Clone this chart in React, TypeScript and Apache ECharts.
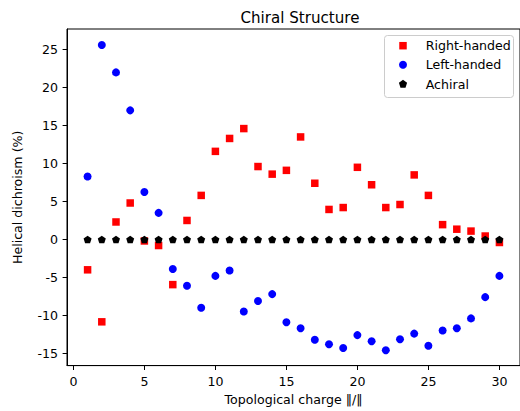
import React, { useEffect, useRef } from "react";
import * as echarts from "echarts";

const charges = [1, 2, 3, 4, 5, 6, 7, 8, 9, 10, 11, 12, 13, 14, 15, 16, 17, 18, 19, 20, 21, 22, 23, 24, 25, 26, 27, 28, 29, 30];
const rightHanded = [-4.0, -10.85, 2.3, 4.8, -0.2, -0.8, -5.95, 2.5, 5.8, 11.6, 13.3, 14.6, 9.6, 8.6, 9.1, 13.5, 7.4, 3.95, 4.2, 9.5, 7.2, 4.2, 4.6, 8.5, 5.8, 1.95, 1.35, 1.1, 0.45, -0.4];
const leftHanded = [8.3, 25.6, 22.0, 17.0, 6.25, 3.5, -3.9, -6.1, -9.0, -4.8, -4.1, -9.5, -8.1, -7.2, -10.9, -11.7, -13.2, -13.8, -14.3, -12.6, -13.4, -14.6, -13.15, -12.4, -14.0, -12.0, -11.7, -10.4, -7.6, -4.8];
const achiral = [0, 0, 0, 0, 0, 0, 0, 0, 0, 0, 0, 0, 0, 0, 0, 0, 0, 0, 0, 0, 0, 0, 0, 0, 0, 0, 0, 0, 0, 0];
const xTicks = [0, 5, 10, 15, 20, 25, 30];
const yTicks = [-15, -10, -5, 0, 5, 10, 15, 20, 25];
const seriesNames = ["Right-handed", "Left-handed", "Achiral"];

const FONT = "DejaVu Sans";
const PENTAGON = "path://M0,-1 L0.951,-0.309 L0.588,0.809 L-0.588,0.809 L-0.951,-0.309 Z";
const SQUARE = "path://M0,0 L1,0 L1,1 L0,1 Z";

function pentagonPoints(cx: number, cy: number, r: number): number[][] {
  const pts: number[][] = [];
  for (let k = 0; k < 5; k++) {
    const a = -Math.PI / 2 + (k * 2 * Math.PI) / 5;
    pts.push([cx + r * Math.cos(a), cy + 0.15 + r * Math.sin(a)]);
  }
  return pts;
}

export default function App() {
  const ref = useRef<HTMLDivElement>(null);
  useEffect(() => {
    if (!ref.current) return;
    const chart = echarts.init(ref.current, null, { renderer: "svg" });
    const pair = (ys: number[]) => charges.map((c, i) => [c, ys[i]]);
    const axisCommon = {
      type: "value" as const,
      splitLine: { show: false },
      axisLine: { show: true, onZero: false, lineStyle: { color: "#000", width: 1 } },
      axisTick: { show: true, inside: false, length: 4.4, lineStyle: { color: "#000", width: 1 } },
      nameTextStyle: { color: "#000", fontFamily: FONT, fontSize: 12.6 },
    };
    const legX = 403;
    const rowY = [45.7, 64.7, 84];
    const textX = 425.7;
    const legendGraphics: any[] = [
      {
        type: "rect",
        shape: { x: 384.5, y: 35.5, width: 129, height: 62, r: 3 },
        style: { fill: "rgba(255,255,255,0.8)", stroke: "#cccccc", lineWidth: 1 },
        z: 100,
      },
      {
        type: "rect",
        shape: { x: legX - 3.75, y: rowY[0] - 3.75, width: 7.5, height: 7.5 },
        style: { fill: "#ff0000" },
        z: 101,
      },
      {
        type: "circle",
        shape: { cx: legX, cy: rowY[1], r: 4 },
        style: { fill: "#0000ff" },
        z: 101,
      },
      {
        type: "polygon",
        shape: { points: pentagonPoints(legX, rowY[2], 4.3) },
        style: { fill: "#000000" },
        z: 101,
      },
    ];
    seriesNames.forEach((n, i) => {
      legendGraphics.push({
        type: "text",
        x: textX,
        y: rowY[i],
        style: {
          text: n,
          fill: "#000",
          font: `12.6px "${FONT}"`,
          verticalAlign: "middle",
          align: "left",
        },
        z: 101,
      });
    });
    chart.setOption({
      animation: false,
      backgroundColor: "#fff",
      title: {
        text: "Chiral Structure",
        left: 295,
        top: 5,
        textAlign: "center",
        textStyle: { fontFamily: FONT, fontSize: 15.1, fontWeight: "normal", color: "#000" },
      },
      grid: {
        left: 67,
        top: 29,
        right: -3,
        bottom: 42,
        show: true,
        borderColor: "#000",
        borderWidth: 1,
        backgroundColor: "transparent",
      },
      xAxis: {
        ...axisCommon,
        min: -0.45,
        max: 31.45,
        axisTick: { ...axisCommon.axisTick, customValues: xTicks },
        axisLabel: {
          customValues: xTicks,
          color: "#000",
          fontFamily: FONT,
          fontSize: 12.6,
          margin: 9.5,
        },
        name: "Topological charge ‖/‖",
        nameLocation: "middle",
        nameGap: 27,
      },
      yAxis: {
        ...axisCommon,
        min: -16.615,
        max: 27.715,
        axisTick: { ...axisCommon.axisTick, customValues: yTicks },
        axisLabel: {
          customValues: yTicks,
          color: "#000",
          fontFamily: FONT,
          fontSize: 12.6,
          margin: 9,
        },
        name: "Helical dichroism (%)",
        nameLocation: "middle",
        nameGap: 43,
      },
      graphic: legendGraphics,
      series: [
        {
          name: seriesNames[0],
          type: "scatter",
          symbol: SQUARE,
          symbolSize: 7.5,
          symbolKeepAspect: true,
          itemStyle: { color: "#ff0000", opacity: 1 },
          data: pair(rightHanded),
        },
        {
          name: seriesNames[1],
          type: "scatter",
          symbol: "circle",
          symbolSize: 8,
          itemStyle: { color: "#0000ff", opacity: 1 },
          data: pair(leftHanded),
        },
        {
          name: seriesNames[2],
          type: "scatter",
          symbol: PENTAGON,
          symbolSize: 8,
          symbolKeepAspect: true,
          itemStyle: { color: "#000000", opacity: 1 },
          data: pair(achiral),
        },
      ],
    });
    return () => chart.dispose();
  }, []);
  return <div ref={ref} style={{ width: 520, height: 411, position: "absolute", left: 0, top: 0 }} />;
}
